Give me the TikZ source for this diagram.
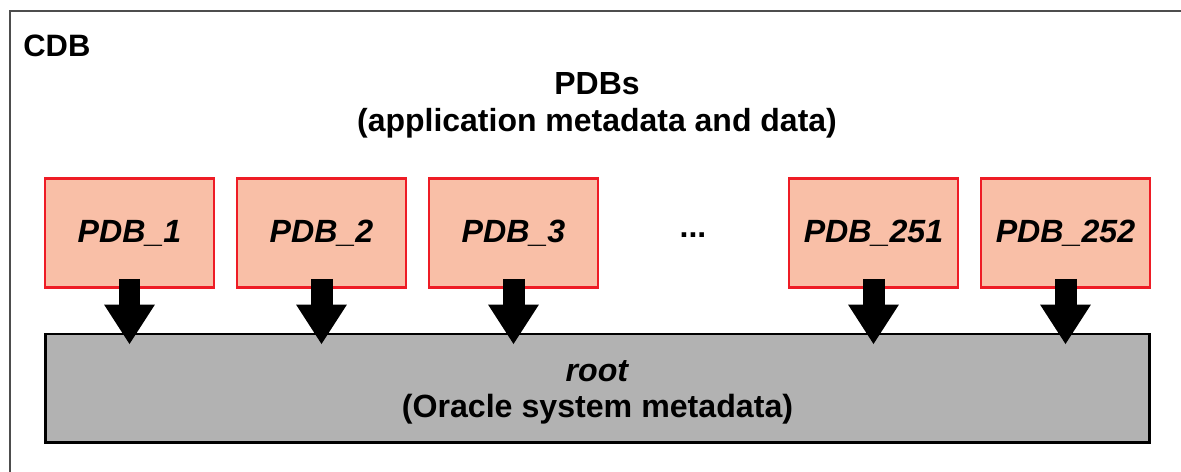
\documentclass[tikz,border=0pt]{standalone}
\usepackage{fontspec}
\setmainfont{Liberation Sans}
\usetikzlibrary{arrows.meta}
\definecolor{pdbfill}{HTML}{F9BFA7}
\definecolor{pdbline}{HTML}{EE1C25}
\definecolor{rootfill}{HTML}{B2B2B2}
\definecolor{framegray}{HTML}{4D4D4D}
\begin{document}
\begin{tikzpicture}
[
x=0.02cm, y=-0.02cm,
pdb/.style={rectangle, draw=pdbline, fill=pdbfill, line width=1.5pt, minimum height=2.18cm, minimum width=3.38cm, font=\fontsize{18.3}{21}\selectfont\bfseries\itshape},
rootbox/.style={rectangle, draw=black, fill=rootfill, line width=1.7pt, minimum height=2.18cm, minimum width=22.1cm},
textbox/.style={align=center, inner sep=0pt, font=\fontsize{18.2}{21}\selectfont\bfseries},
blockarrow/.style={line width=0.44cm, -{Triangle[width=0.96cm, length=0.8cm]}},
]

\useasboundingbox (0,0) rectangle (1181,472);
\draw[framegray, line width=1.4pt] (10,472) -- (10,11) -- (1181,11);

\node at (23,57) [textbox, anchor=base west, font=\fontsize{17.6}{21}\selectfont\bfseries] (cdb) {CDB};
\node at (597,105) [textbox] (title) {PDBs\\(application metadata and data)};

\node at (129.5,233) [pdb] (p1) {PDB\_1};
\node at (321.5,233) [pdb] (p2) {PDB\_2};
\node at (513.5,233) [pdb] (p3) {PDB\_3};
\node at (693,238) [textbox, anchor=base] (dots) {...};
\node at (873.5,233) [pdb] (p251) {PDB\_251};
\node at (1065.5,233) [pdb] (p252) {PDB\_252};

\node at (597.5,388.5) [rootbox] (root) {};
\node at (597.5,392.5) [textbox, font=\fontsize{18.3}{20.4}\selectfont\bfseries] (rootlabel) {\textit{root}\\(Oracle system metadata)};

\draw[blockarrow] ([yshift=0.2cm]p1.south) -- ([yshift=-0.24cm]p1.south |- root.north);
\draw[blockarrow] ([yshift=0.2cm]p2.south) -- ([yshift=-0.24cm]p2.south |- root.north);
\draw[blockarrow] ([yshift=0.2cm]p3.south) -- ([yshift=-0.24cm]p3.south |- root.north);
\draw[blockarrow] ([yshift=0.2cm]p251.south) -- ([yshift=-0.24cm]p251.south |- root.north);
\draw[blockarrow] ([yshift=0.2cm]p252.south) -- ([yshift=-0.24cm]p252.south |- root.north);

\end{tikzpicture}
\end{document}
